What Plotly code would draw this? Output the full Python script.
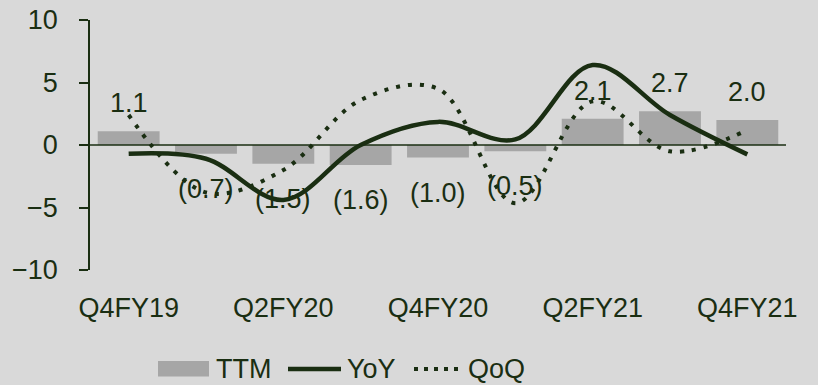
import plotly.graph_objects as go

quarters = ["Q4FY19", "Q1FY20", "Q2FY20", "Q3FY20", "Q4FY20", "Q1FY21", "Q2FY21", "Q3FY21", "Q4FY21"]
ttm = [1.1, -0.7, -1.5, -1.6, -1.0, -0.5, 2.1, 2.7, 2.0]
yoy = [-0.7, -1.1, -4.4, 0.0, 1.85, 0.45, 6.4, 2.4, -0.75]
qoq = [2.4, -3.8, -2.0, 3.6, 4.5, -4.65, 3.5, -0.5, 1.2]
tick_labels = ["Q4FY19", "Q2FY20", "Q4FY20", "Q2FY21", "Q4FY21"]
y_ticks = [-10, -5, 0, 5, 10]
legend_names = ["TTM", "YoY", "QoQ"]

dark = "#1a2e12"
bg = "#d9d9d9"
barc = "#a6a6a6"
font = "Liberation Sans, Arial"
fsize = 27

W, H = 818, 385
ML, MR, MT, MB = 90, 32, 20, 115
PW, PH = W - ML - MR, H - MT - MB

def fmt(v):
    return f"({abs(v):.1f})" if v < 0 else f"{v:.1f}"

def px(x):
    return (x - ML) / PW

def py(y):
    return (H - MB - y) / PH

fig = go.Figure()
fig.add_trace(go.Bar(x=quarters, y=ttm, name=legend_names[0], marker=dict(color=barc, line=dict(width=0))))
fig.add_trace(go.Scatter(x=quarters, y=yoy, name=legend_names[1], mode="lines",
                         line=dict(color=dark, width=4.5, shape="spline", smoothing=1)))
fig.add_trace(go.Scatter(x=quarters, y=qoq, name=legend_names[2], mode="lines",
                         line=dict(color=dark, width=4, shape="spline", smoothing=1, dash="4px,8px")))

for q, v in zip(quarters, ttm):
    fig.add_annotation(x=q, y=v, text=fmt(v), showarrow=False,
                       yshift=(28 if v >= 0 else -35),
                       font=dict(family=font, size=fsize, color=dark))

fig.add_shape(type="line", xref="paper", yref="y", x0=px(81), x1=1, y0=0, y1=0,
              line=dict(color=dark, width=1.5), layer="above")

# custom legend (paper coordinates converted from pixels)
leg_y = 369
fig.add_shape(type="rect", xref="paper", yref="paper", x0=px(158), x1=px(209),
              y0=py(376.5), y1=py(361), fillcolor=barc, line=dict(width=0))
fig.add_shape(type="line", xref="paper", yref="paper", x0=px(288), x1=px(341),
              y0=py(leg_y), y1=py(leg_y), line=dict(color=dark, width=4.5))
fig.add_shape(type="line", xref="paper", yref="paper", x0=px(414), x1=px(462),
              y0=py(leg_y), y1=py(leg_y), line=dict(color=dark, width=4, dash="4px,6px"))
for name, xl in zip(legend_names, [214, 345, 466]):
    fig.add_annotation(xref="paper", yref="paper", x=px(xl), y=py(leg_y), xanchor="left",
                       yanchor="middle", text=name, showarrow=False,
                       font=dict(family=font, size=fsize, color=dark))

fig.update_layout(
    width=W, height=H,
    margin=dict(l=ML, r=MR, t=MT, b=MB, autoexpand=False),
    paper_bgcolor=bg, plot_bgcolor=bg,
    bargap=0.2,
    font=dict(family=font, size=fsize, color=dark),
    showlegend=False,
    xaxis=dict(type="category", tickmode="array", tickvals=tick_labels, ticktext=tick_labels,
               showgrid=False, zeroline=False, showline=False, ticks="", automargin=False,
               ticklabelstandoff=19, tickfont=dict(family=font, size=fsize, color=dark)),
    yaxis=dict(range=[-10, 10], tickvals=y_ticks, showgrid=False, zeroline=False, automargin=False,
               showline=True, linecolor=dark, linewidth=1.5, ticks="outside", ticklen=9,
               tickcolor=dark, tickwidth=1.5, ticklabelstandoff=16,
               tickfont=dict(family=font, size=fsize, color=dark)),
)

fig.write_html("out.html")
